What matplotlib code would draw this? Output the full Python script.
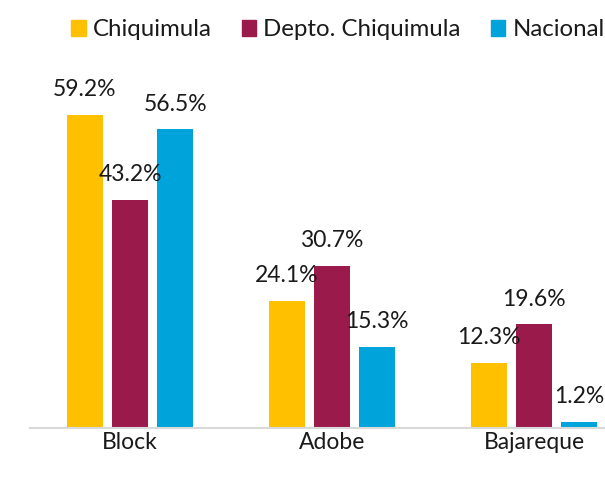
import numpy as np
import matplotlib.pyplot as plt
from matplotlib.patches import Patch

categories = ["Block", "Adobe", "Bajareque"]
series = ["Chiquimula", "Depto. Chiquimula", "Nacional"]
chiquimula = [59.2, 24.1, 12.3]
depto = [43.2, 30.7, 19.6]
nacional = [56.5, 15.3, 1.2]
colors = ["#FFC000", "#991A4B", "#00A3DA"]

plt.rcParams['font.family'] = ['Lato', 'DejaVu Sans']

fig = plt.figure(figsize=(6.05, 4.78), dpi=100)
ax = fig.add_axes([30/605, 50/478, 575/605, 370/478])

x = np.arange(len(categories))
w = 0.178
off = 0.223
for i, (vals, col) in enumerate(zip([chiquimula, depto, nacional], colors)):
    pos = x + (i - 1) * off
    ax.bar(pos, vals, width=w, color=col)
    for p, v in zip(pos, vals):
        ax.text(p, v + 2.8, f"{v:.1f}%", ha='center', va='bottom',
                fontsize=16.5, color='#1a1a1a')

ax.set_xlim(-0.495, 2.35)
ax.set_ylim(0, 70)
ax.set_xticks(x)
ax.set_xticklabels(categories, fontsize=16.5, color='#1a1a1a')
ax.tick_params(axis='x', length=0, pad=3)
ax.set_yticks([])
for s in ['top', 'right', 'left']:
    ax.spines[s].set_visible(False)
ax.spines['bottom'].set_color('#D9D9D9')
ax.spines['bottom'].set_linewidth(1.5)

handles = [Patch(color=c, label=s) for c, s in zip(colors, series)]
fig.legend(handles=handles, loc='center', bbox_to_anchor=(338/605, 1 - 30/478),
           ncol=3, frameon=False, fontsize=17.3, handlelength=0.6,
           handleheight=0.6, handletextpad=0.3, columnspacing=1.25,
           labelcolor='#1a1a1a')

fig.savefig("out.png", dpi=100)
